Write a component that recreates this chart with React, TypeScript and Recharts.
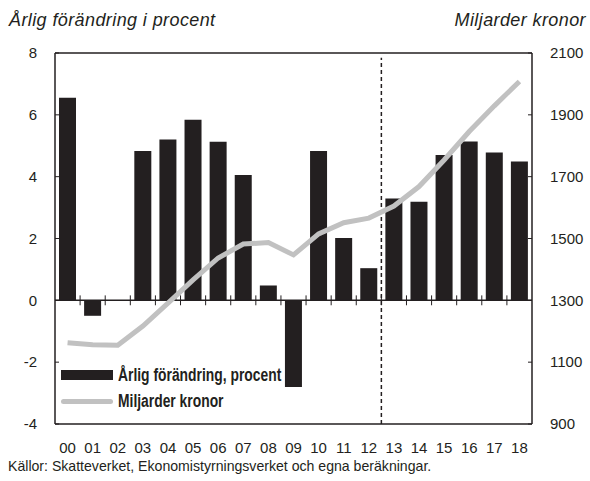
import React from 'react';
import { ComposedChart, Bar, Line, XAxis, YAxis, ReferenceLine } from 'recharts';

const years = ['00', '01', '02', '03', '04', '05', '06', '07', '08', '09', '10', '11', '12', '13', '14', '15', '16', '17', '18'];
const changePct = [6.55, -0.5, 0, 4.83, 5.2, 5.84, 5.13, 4.05, 0.48, -2.8, 4.83, 2.02, 1.04, 3.29, 3.19, 4.7, 5.14, 4.78, 4.49];
const billionsSek = [1163, 1156, 1155, 1217, 1291, 1366, 1437, 1482, 1487, 1447, 1515, 1551, 1566, 1605, 1668, 1754, 1846, 1929, 2008];
const leftTicks = [-4, -2, 0, 2, 4, 6, 8];
const rightTicks = [900, 1100, 1300, 1500, 1700, 1900, 2100];

const INK = '#231f20';
const GREY = '#c1c1c1';
const SANS = '"Liberation Sans", Arial, sans-serif';

const rows = years.map((label, i) => ({ x: i, label, change: changePct[i], mkr: billionsSek[i] }));
// category boundaries get small tick marks on the zero line
const boundaries = years.slice(1).map((_, i) => i + 0.5);

// no condensed face installed, so squeeze the regular one
const narrow = (scale: number): React.CSSProperties => ({
  display: 'inline-block', transform: `scaleX(${scale})`, transformOrigin: 'left center', whiteSpace: 'nowrap',
});

export default function App() {
  const tickStyle = { fontSize: 15, fill: INK, fontFamily: SANS };
  const titleStyle: React.CSSProperties = { position: 'absolute', top: 10, fontSize: 18, fontStyle: 'italic', letterSpacing: 0.4 };
  return (
    <div style={{ position: 'absolute', left: 0, top: 0, width: 590, height: 481, background: '#fff', fontFamily: SANS, color: INK, overflow: 'hidden' }}>
      <div style={{ ...titleStyle, left: 9 }}>Årlig förändring i procent</div>
      <div style={{ ...titleStyle, right: 4 }}>Miljarder kronor</div>

      <ComposedChart width={590} height={481} data={rows} margin={{ top: 53, right: 0, bottom: 27, left: 0 }}>
        <XAxis
          dataKey="x"
          type="number"
          domain={[-0.5, 18.5]}
          ticks={rows.map(r => r.x)}
          tickFormatter={(v: number) => years[v]}
          interval={0}
          tickLine={false}
          tickSize={0}
          tickMargin={18}
          height={30}
          axisLine={{ stroke: INK, strokeWidth: 1.5 }}
          tick={tickStyle}
        />
        <YAxis
          yAxisId="left"
          domain={[-4, 8]}
          ticks={leftTicks}
          interval={0}
          width={55}
          tickSize={-4}
          tickMargin={22}
          tickLine={{ stroke: INK }}
          axisLine={{ stroke: INK, strokeWidth: 1.5 }}
          tick={tickStyle}
        />
        <YAxis
          yAxisId="right"
          orientation="right"
          domain={[900, 2100]}
          ticks={rightTicks}
          interval={0}
          width={58}
          tickSize={-4}
          tickMargin={22}
          tickLine={{ stroke: INK }}
          axisLine={{ stroke: INK, strokeWidth: 1.5 }}
          tick={tickStyle}
        />
        <ReferenceLine yAxisId="left" y={8} stroke={INK} strokeWidth={1.5} />
        <Bar yAxisId="left" dataKey="change" fill={INK} barSize={17} isAnimationActive={false} />
        <ReferenceLine yAxisId="left" y={0} stroke={INK} strokeWidth={1.5} />
        {boundaries.map(b => (
          <ReferenceLine
            key={b}
            yAxisId="left"
            segment={[{ x: b, y: -0.16 }, { x: b, y: 0.16 }]}
            stroke={INK}
            strokeWidth={1}
          />
        ))}
        <ReferenceLine
          yAxisId="left"
          segment={[{ x: 12.5, y: -4 }, { x: 12.5, y: 7.85 }]}
          stroke={INK}
          strokeWidth={1.5}
          strokeDasharray="4 3"
        />
        <Line
          yAxisId="right"
          dataKey="mkr"
          type="linear"
          stroke={GREY}
          strokeWidth={5}
          dot={false}
          isAnimationActive={false}
        />
      </ComposedChart>

      <div style={{ position: 'absolute', left: 61, top: 362, fontWeight: 700, fontSize: 18, lineHeight: '26px' }}>
        <div style={{ display: 'flex', alignItems: 'center' }}>
          <span style={{ display: 'inline-block', width: 52, height: 10, background: INK, marginRight: 5, flex: 'none' }} />
          <span style={narrow(0.77)}>Årlig förändring, procent</span>
        </div>
        <div style={{ display: 'flex', alignItems: 'center' }}>
          <span style={{ display: 'inline-block', width: 52, height: 5, borderRadius: 3, background: GREY, marginRight: 5, flex: 'none' }} />
          <span style={narrow(0.77)}>Miljarder kronor</span>
        </div>
      </div>

      <div style={{ position: 'absolute', left: 8, top: 457, fontSize: 15 }}>
        <span style={narrow(0.94)}>Källor: Skatteverket, Ekonomistyrningsverket och egna beräkningar.</span>
      </div>
    </div>
  );
}
